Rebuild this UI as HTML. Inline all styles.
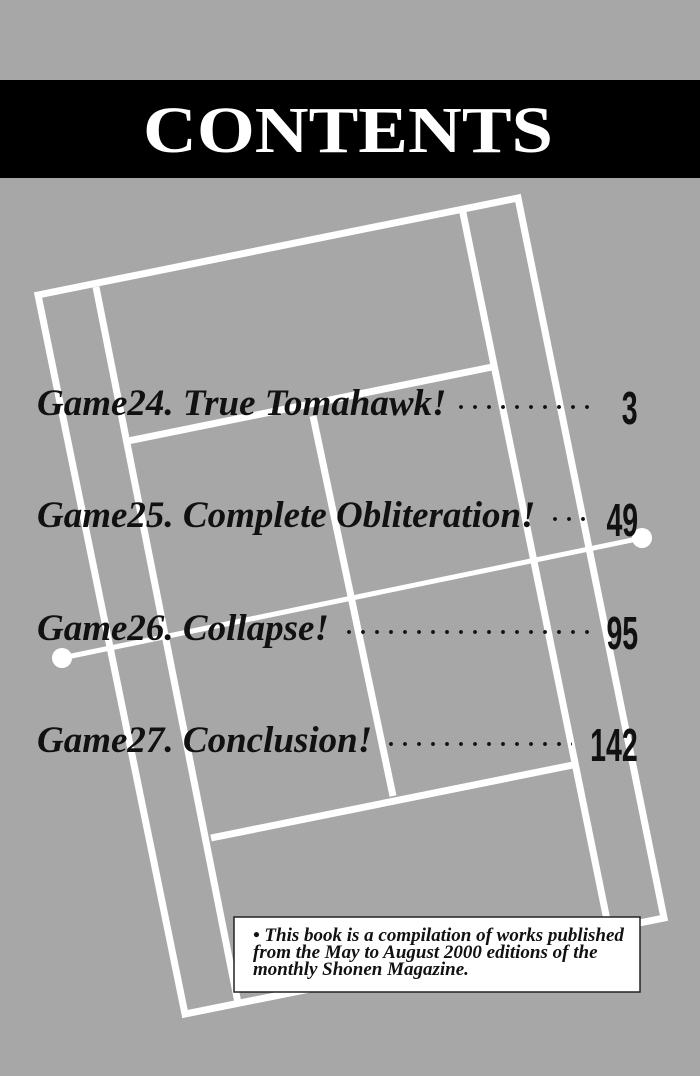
<!DOCTYPE html>
<html><head><meta charset="utf-8"><style>
html,body{margin:0;padding:0}
body{width:700px;height:1076px;overflow:hidden;background:#a7a7a7;position:relative;font-family:"Liberation Serif",serif}
.t{position:absolute;left:37px;font-style:italic;font-weight:bold;font-size:37px;color:#111;white-space:nowrap;transform:scaleX(1.0);transform-origin:left}
.n{position:absolute;font-family:"Liberation Sans",sans-serif;font-weight:bold;font-size:46px;color:#111;transform:scaleX(0.62);transform-origin:right;right:62px;line-height:46px}
.d{position:absolute;height:6px;background:radial-gradient(circle,#111 1.7px,transparent 2.2px) 0 0/14px 6px repeat-x}
</style></head><body>
<svg width="700" height="1076" style="position:absolute;left:0;top:0">
<rect x="0" y="80" width="700" height="98" fill="#000"/>
<text x="348" y="152" text-anchor="middle" font-family="Liberation Serif,serif" font-weight="bold" font-size="66" fill="#fff" textLength="410" lengthAdjust="spacingAndGlyphs">CONTENTS</text>
<g stroke="#fff" stroke-width="7" fill="none" stroke-linejoin="miter">
<polygon points="38,295 518,198 664,918 185,1014"/>
<line x1="96" y1="287" x2="238" y2="1003"/>
<line x1="462" y1="208" x2="608" y2="925"/>
<line x1="128" y1="441" x2="497" y2="366"/>
<line x1="313" y1="416" x2="393" y2="796"/>
<line x1="211" y1="838" x2="578" y2="764"/>
<line x1="62" y1="658" x2="642" y2="538" stroke-width="5"/>
</g>
<circle cx="62" cy="658" r="10" fill="#fff"/>
<circle cx="642" cy="538" r="10" fill="#fff"/>
<rect x="234" y="917" width="406" height="75" fill="#fff" stroke="#222" stroke-width="1.5"/>
</svg>
<div class="t" style="top:382px">Game24. True Tomahawk!</div>
<div class="d" style="left:454px;width:140px;top:404px"></div>
<div class="n" style="top:385px">3</div>
<div class="t" style="top:494px">Game25. Complete Obliteration!</div>
<div class="d" style="left:548px;width:44px;top:516px"></div>
<div class="n" style="top:497px">49</div>
<div class="t" style="top:607px">Game26. Collapse!</div>
<div class="d" style="left:342px;width:252px;top:629px"></div>
<div class="n" style="top:610px">95</div>
<div class="t" style="top:719px">Game27. Conclusion!</div>
<div class="d" style="left:384px;width:188px;top:741px"></div>
<div class="n" style="top:722px">142</div>
<div style="position:absolute;left:253px;top:927px;font-style:italic;font-weight:bold;font-size:19px;line-height:17px;color:#111;white-space:nowrap">• This book is a compilation of works published<br>from the May to August 2000 editions of the<br>monthly Shonen Magazine.</div>
</body></html>
